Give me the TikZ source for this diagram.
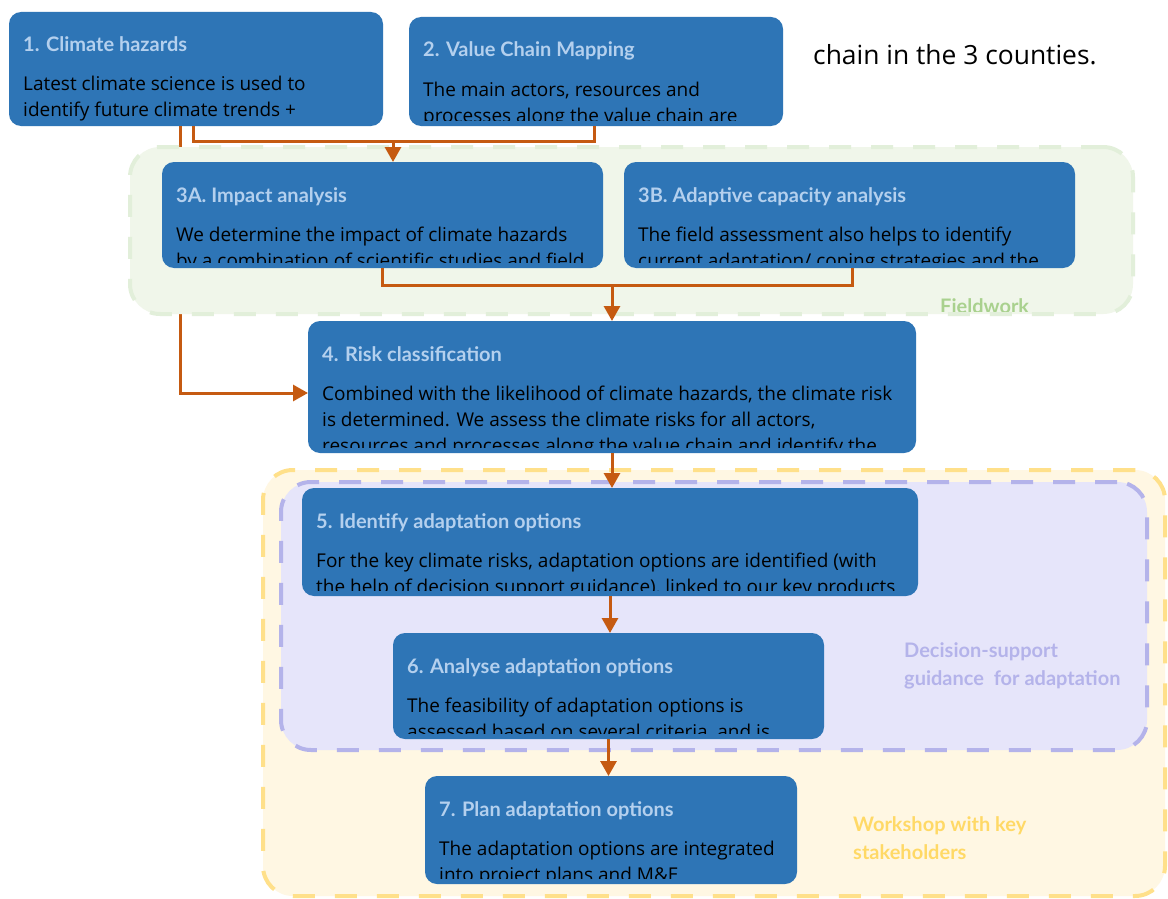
\documentclass[tikz,border=0pt]{standalone}
\usepackage{fontspec}
\setmainfont{Open Sans}
\newfontfamily\ttlfont{Lato}
\newfontfamily\chainfont{Open Sans}
\usetikzlibrary{arrows.meta}
\definecolor{boxblue}{HTML}{2E75B6}
\definecolor{ttlblue}{HTML}{B4D0EE}
\definecolor{arrowc}{HTML}{C55A11}
\definecolor{grfill}{HTML}{F0F6EA}
\definecolor{grdash}{HTML}{E2EFDA}
\definecolor{grtext}{HTML}{A9D18E}
\definecolor{pufill}{HTML}{E6E5FA}
\definecolor{pudash}{HTML}{B4B3EA}
\definecolor{yefill}{HTML}{FFF7E3}
\definecolor{yedash}{HTML}{FFE08A}
\definecolor{yetext}{HTML}{FFD966}
\tikzset{
  flowbox/.style={fill=boxblue, rounded corners=12pt, inner sep=0pt, outer sep=0pt, anchor=north west},
  ttl/.style={text=ttlblue, font=\ttlfont\fontsize{20}{24}\selectfont\bfseries, inner sep=0pt, anchor=base west},
  bdy/.style={text=black, font=\fontsize{19}{26}\selectfont, inner sep=0pt, anchor=base west},
  region/.style={rounded corners=30pt, line width=4pt, dash pattern=on 22pt off 20pt, inner sep=0pt, outer sep=0pt, anchor=north west},
  rlabel/.style={font=\ttlfont\fontsize{20}{28.5}\selectfont\bfseries, inner sep=0pt, anchor=base west},
  ln/.style={draw=arrowc, line width=3pt},
  arr/.style={draw=arrowc, line width=3pt, -{Triangle[width=16pt,length=15pt]}}
}
\renewcommand{\arraystretch}{1}
\newcommand{\lines}[1]{\begin{tabular}[t]{@{}l@{}}#1\end{tabular}}
\newcommand{\mkbox}[7]{%
  \node[flowbox, minimum width=#4pt, minimum height=#5pt] (#1) at (#2,#3) {};
  \begin{scope}
    \clip[rounded corners=12pt] (#1.north west) rectangle ([yshift=6pt]#1.south east);
    \node[ttl] (#1t) at ([xshift=14pt,yshift=-40pt]#1.north west) {#6};
    \node[bdy] (#1b) at ([xshift=14pt,yshift=-79pt]#1.north west) {\lines{#7}};
  \end{scope}}
\begin{document}
\begin{tikzpicture}[x=1pt,y=-1pt]
\useasboundingbox (0,0) rectangle (1168,899);
\fill[white] (0,0) rectangle (1168,899);

\mkbox{b1}{9}{12}{374}{114}{1. Climate hazards}{Latest climate science is used to\\identify future climate trends +}
\mkbox{b4}{308}{321}{608}{132}{4. Risk classification}{Combined with the likelihood of climate hazards, the climate risk\\is determined. We assess the climate risks for all actors,\\resources and processes along the value chain and identify the}

\draw[arr] ([xshift=171pt]b1.south west) |- ([yshift=-6pt]b4.west);

\node[region, draw=grdash, fill=grfill, minimum width=1003pt, minimum height=167pt] (fw) at (130,147) {};
\begin{scope}
  \clip (900,280) rectangle (1100,311);
  \node[rlabel, text=grtext] (fwl) at (940,313) {Fieldwork};
\end{scope}

\node[region, draw=yedash, fill=yefill, minimum width=902pt, minimum height=426pt] (ws) at (263,470) {};
\node[region, draw=pudash, fill=pufill, minimum width=866pt, minimum height=268pt] (ds) at (281,482) {};
\node[rlabel, text=pudash] (dsl) at (904,657) {\lines{Decision-support\\guidance\ \ for adaptation}};
\node[rlabel, text=yetext] (wsl) at (853,831) {\lines{Workshop with key\\stakeholders}};

\mkbox{b2}{409}{17}{374}{109}{2. Value Chain Mapping}{The main actors, resources and\\processes along the value chain are}
\mkbox{b3a}{162}{162}{441}{106}{3A. Impact analysis}{We determine the impact of climate hazards\\by a combination of scientific studies and field}
\mkbox{b3b}{624}{162}{451}{106}{3B. Adaptive capacity analysis}{The field assessment also helps to identify\\current adaptation/ coping strategies and the}
\mkbox{b5}{302}{488}{616}{108}{5. Identify adaptation options}{For the key climate risks, adaptation options are identified (with\\the help of decision support guidance), linked to our key products}
\mkbox{b6}{393}{633}{431}{106}{6. Analyse adaptation options}{The feasibility of adaptation options is\\assessed based on several criteria, and is}
\mkbox{b7}{425}{776}{372}{108}{7. Plan adaptation options}{The adaptation options are integrated\\into project plans and M\&E}

\node[font=\chainfont\fontsize{26.4}{30}\selectfont, inner sep=0pt, anchor=base west] (chain) at (813,65) {chain in the 3 counties.};

\draw[arr] ([xshift=184pt]b1.south west) |- ([xshift=231pt,yshift=21pt]b3a.north west) -- ([xshift=231pt]b3a.north west);
\draw[ln] ([xshift=185pt]b2.south west) |- ([xshift=231pt,yshift=21pt]b3a.north west);
\draw[ln] ([xshift=220pt]b3a.south west) |- ([xshift=228pt,yshift=-17pt]b3b.south west) -- ([xshift=228pt]b3b.south west);
\draw[arr] ([yshift=37pt]b4.north) -- (b4.north);
\draw[arr] (b4.south) -- (b4.south |- b5.north);
\draw[arr] (b5.south) -- (b5.south |- b6.north);
\draw[arr] (b6.south) -- (b6.south |- b7.north);
\end{tikzpicture}
\end{document}
